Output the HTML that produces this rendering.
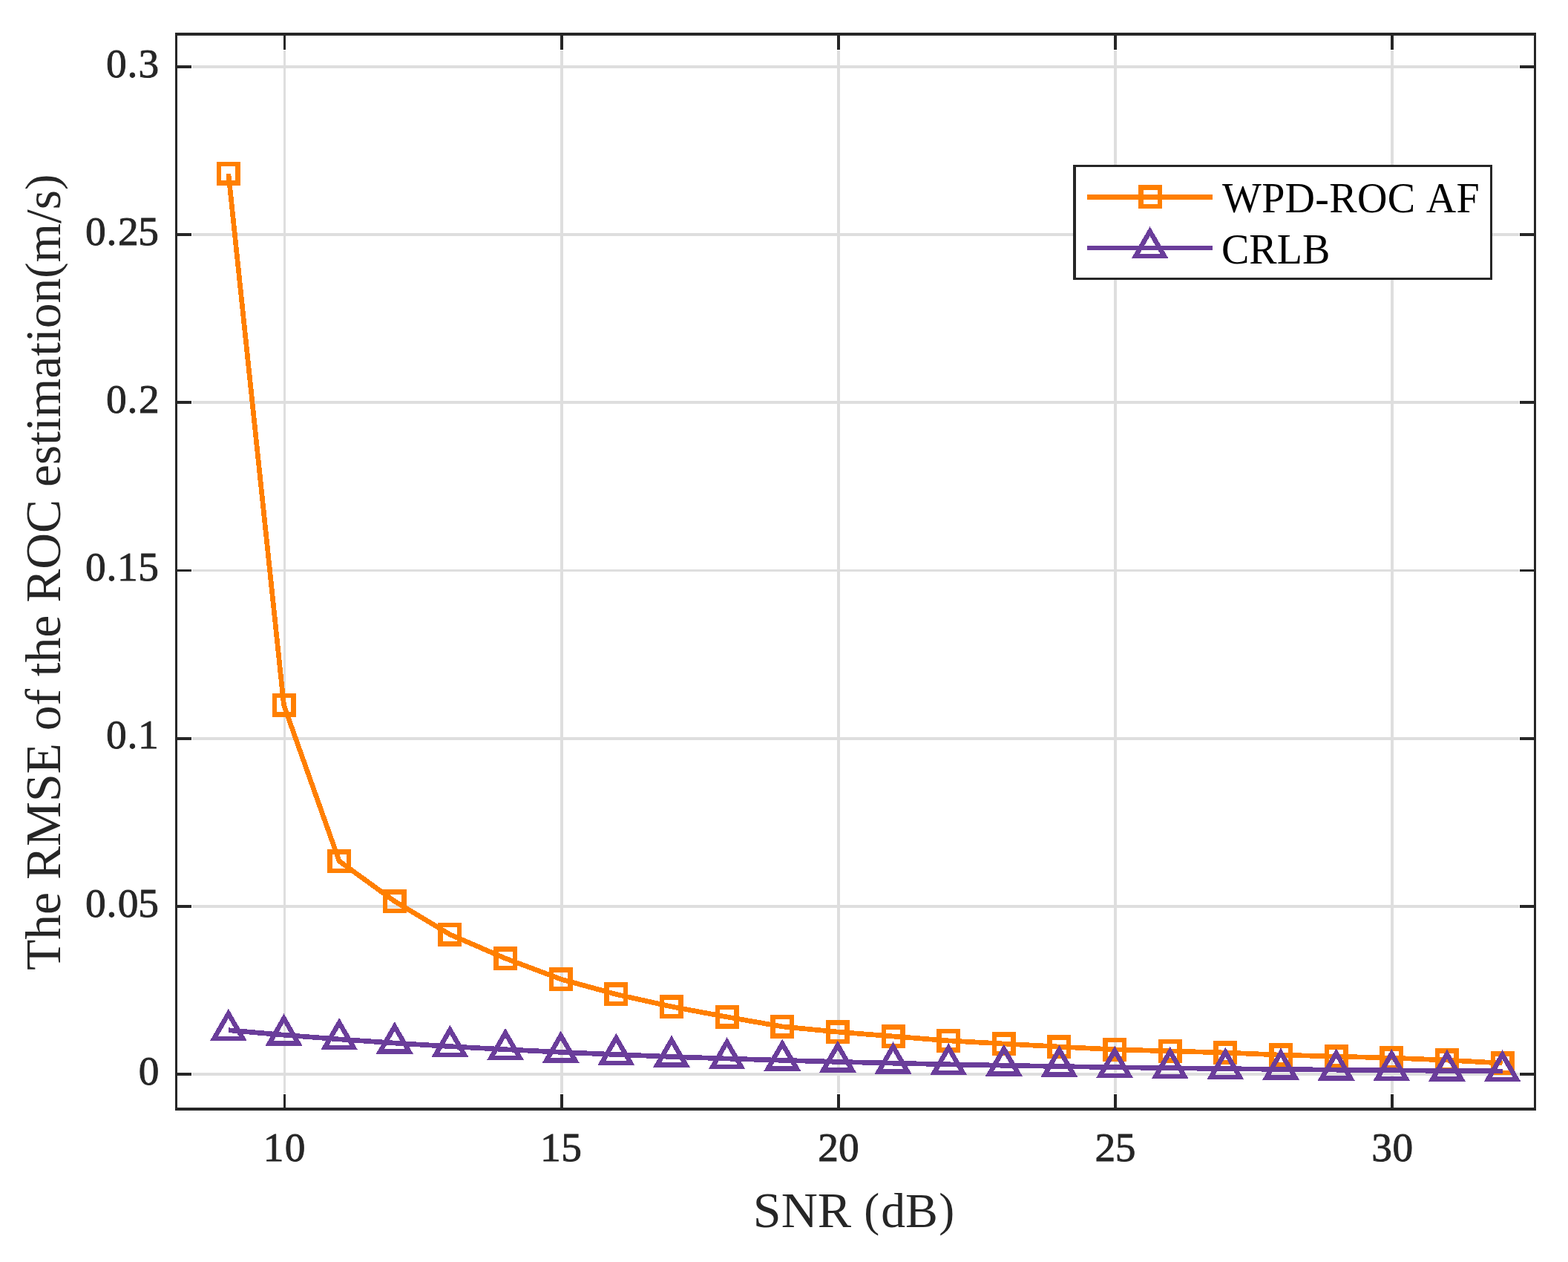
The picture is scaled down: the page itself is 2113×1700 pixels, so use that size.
<!DOCTYPE html>
<html lang="en">
<head>
<meta charset="utf-8">
<title>The RMSE of the ROC estimation vs SNR</title>
<style>
html,body{margin:0;padding:0;background:#ffffff;}
body{width:2113px;height:1700px;overflow:hidden;}
svg{display:block;}
</style>
</head>
<body>
<svg width="2113" height="1700" viewBox="0 0 2113 1700">
<rect x="0" y="0" width="2113" height="1700" fill="#ffffff"/>
<g fill="#dedede" shape-rendering="crispEdges">
<rect x="382" y="68" width="3" height="1405"/>
<rect x="755" y="68" width="4" height="1405"/>
<rect x="1128" y="68" width="4" height="1405"/>
<rect x="1501" y="68" width="4" height="1405"/>
<rect x="1874" y="68" width="4" height="1405"/>
<rect x="259" y="88" width="1788" height="4"/>
<rect x="259" y="314" width="1788" height="4"/>
<rect x="259" y="540" width="1788" height="4"/>
<rect x="259" y="767" width="1788" height="3"/>
<rect x="259" y="993" width="1788" height="4"/>
<rect x="259" y="1219" width="1788" height="4"/>
<rect x="259" y="1445" width="1788" height="4"/>
</g>
<g fill="#262626" shape-rendering="crispEdges">
<rect x="382" y="48" width="3" height="19"/>
<rect x="382" y="1474" width="3" height="18"/>
<rect x="755" y="48" width="4" height="19"/>
<rect x="755" y="1474" width="4" height="18"/>
<rect x="1128" y="48" width="4" height="19"/>
<rect x="1128" y="1474" width="4" height="18"/>
<rect x="1501" y="48" width="4" height="19"/>
<rect x="1501" y="1474" width="4" height="18"/>
<rect x="1874" y="48" width="4" height="19"/>
<rect x="1874" y="1474" width="4" height="18"/>
<rect x="239" y="88" width="19" height="4"/>
<rect x="2048" y="88" width="19" height="4"/>
<rect x="239" y="314" width="19" height="4"/>
<rect x="2048" y="314" width="19" height="4"/>
<rect x="239" y="540" width="19" height="4"/>
<rect x="2048" y="540" width="19" height="4"/>
<rect x="239" y="767" width="19" height="3"/>
<rect x="2048" y="767" width="19" height="3"/>
<rect x="239" y="993" width="19" height="4"/>
<rect x="2048" y="993" width="19" height="4"/>
<rect x="239" y="1219" width="19" height="4"/>
<rect x="2048" y="1219" width="19" height="4"/>
<rect x="239" y="1445" width="19" height="4"/>
<rect x="2048" y="1445" width="19" height="4"/>
<rect x="236" y="44" width="1834" height="4"/>
<rect x="236" y="1492" width="1834" height="4"/>
<rect x="236" y="44" width="3" height="1452"/>
<rect x="2067" y="44" width="3" height="1452"/>
</g>
<polyline points="307.86,233.90 382.50,949.90 457.14,1160.00 531.78,1214.10 606.42,1258.90 681.06,1291.00 755.70,1319.00 830.34,1339.40 904.98,1356.00 979.62,1369.90 1054.26,1382.90 1128.90,1390.10 1203.54,1396.00 1278.18,1401.90 1352.82,1406.00 1427.46,1410.05 1502.10,1413.80 1576.74,1415.90 1651.38,1418.00 1726.02,1421.10 1800.66,1423.10 1875.30,1425.10 1949.94,1428.10 2024.58,1432.10" fill="none" stroke="#ff7f00" stroke-width="6.7" stroke-linejoin="round" stroke-linecap="butt" shape-rendering="crispEdges"/>
<rect x="295.11" y="221.15" width="25.5" height="25.5" fill="none" stroke="#ff7f00" stroke-width="6.5" shape-rendering="crispEdges"/>
<rect x="369.75" y="937.15" width="25.5" height="25.5" fill="none" stroke="#ff7f00" stroke-width="6.5" shape-rendering="crispEdges"/>
<rect x="444.39" y="1147.25" width="25.5" height="25.5" fill="none" stroke="#ff7f00" stroke-width="6.5" shape-rendering="crispEdges"/>
<rect x="519.03" y="1201.35" width="25.5" height="25.5" fill="none" stroke="#ff7f00" stroke-width="6.5" shape-rendering="crispEdges"/>
<rect x="593.67" y="1246.15" width="25.5" height="25.5" fill="none" stroke="#ff7f00" stroke-width="6.5" shape-rendering="crispEdges"/>
<rect x="668.31" y="1278.25" width="25.5" height="25.5" fill="none" stroke="#ff7f00" stroke-width="6.5" shape-rendering="crispEdges"/>
<rect x="742.95" y="1306.25" width="25.5" height="25.5" fill="none" stroke="#ff7f00" stroke-width="6.5" shape-rendering="crispEdges"/>
<rect x="817.59" y="1326.65" width="25.5" height="25.5" fill="none" stroke="#ff7f00" stroke-width="6.5" shape-rendering="crispEdges"/>
<rect x="892.23" y="1343.25" width="25.5" height="25.5" fill="none" stroke="#ff7f00" stroke-width="6.5" shape-rendering="crispEdges"/>
<rect x="966.87" y="1357.15" width="25.5" height="25.5" fill="none" stroke="#ff7f00" stroke-width="6.5" shape-rendering="crispEdges"/>
<rect x="1041.51" y="1370.15" width="25.5" height="25.5" fill="none" stroke="#ff7f00" stroke-width="6.5" shape-rendering="crispEdges"/>
<rect x="1116.15" y="1377.35" width="25.5" height="25.5" fill="none" stroke="#ff7f00" stroke-width="6.5" shape-rendering="crispEdges"/>
<rect x="1190.79" y="1383.25" width="25.5" height="25.5" fill="none" stroke="#ff7f00" stroke-width="6.5" shape-rendering="crispEdges"/>
<rect x="1265.43" y="1389.15" width="25.5" height="25.5" fill="none" stroke="#ff7f00" stroke-width="6.5" shape-rendering="crispEdges"/>
<rect x="1340.07" y="1393.25" width="25.5" height="25.5" fill="none" stroke="#ff7f00" stroke-width="6.5" shape-rendering="crispEdges"/>
<rect x="1414.71" y="1397.30" width="25.5" height="25.5" fill="none" stroke="#ff7f00" stroke-width="6.5" shape-rendering="crispEdges"/>
<rect x="1489.35" y="1401.05" width="25.5" height="25.5" fill="none" stroke="#ff7f00" stroke-width="6.5" shape-rendering="crispEdges"/>
<rect x="1563.99" y="1403.15" width="25.5" height="25.5" fill="none" stroke="#ff7f00" stroke-width="6.5" shape-rendering="crispEdges"/>
<rect x="1638.63" y="1405.25" width="25.5" height="25.5" fill="none" stroke="#ff7f00" stroke-width="6.5" shape-rendering="crispEdges"/>
<rect x="1713.27" y="1408.35" width="25.5" height="25.5" fill="none" stroke="#ff7f00" stroke-width="6.5" shape-rendering="crispEdges"/>
<rect x="1787.91" y="1410.35" width="25.5" height="25.5" fill="none" stroke="#ff7f00" stroke-width="6.5" shape-rendering="crispEdges"/>
<rect x="1862.55" y="1412.35" width="25.5" height="25.5" fill="none" stroke="#ff7f00" stroke-width="6.5" shape-rendering="crispEdges"/>
<rect x="1937.19" y="1415.35" width="25.5" height="25.5" fill="none" stroke="#ff7f00" stroke-width="6.5" shape-rendering="crispEdges"/>
<rect x="2011.83" y="1419.35" width="25.5" height="25.5" fill="none" stroke="#ff7f00" stroke-width="6.5" shape-rendering="crispEdges"/>
<polyline points="307.86,1387.71 382.50,1394.17 457.14,1399.92 531.78,1405.05 606.42,1409.63 681.06,1413.70 755.70,1417.33 830.34,1420.57 904.98,1423.46 979.62,1426.03 1054.26,1428.32 1128.90,1430.36 1203.54,1432.18 1278.18,1433.80 1352.82,1435.25 1427.46,1436.54 1502.10,1437.69 1576.74,1438.71 1651.38,1439.62 1726.02,1440.44 1800.66,1441.16 1875.30,1441.81 1949.94,1442.38 2024.58,1442.90" fill="none" stroke="#6a3d9a" stroke-width="6.7" stroke-linejoin="round" stroke-linecap="butt" shape-rendering="crispEdges"/>
<path d="M307.86 1365.31 L327.26 1398.91 L288.46 1398.91 Z" fill="none" stroke="#6a3d9a" stroke-width="6.5" stroke-linejoin="miter" stroke-miterlimit="10" shape-rendering="crispEdges"/>
<path d="M382.50 1371.77 L401.90 1405.37 L363.10 1405.37 Z" fill="none" stroke="#6a3d9a" stroke-width="6.5" stroke-linejoin="miter" stroke-miterlimit="10" shape-rendering="crispEdges"/>
<path d="M457.14 1377.52 L476.54 1411.12 L437.74 1411.12 Z" fill="none" stroke="#6a3d9a" stroke-width="6.5" stroke-linejoin="miter" stroke-miterlimit="10" shape-rendering="crispEdges"/>
<path d="M531.78 1382.65 L551.18 1416.25 L512.38 1416.25 Z" fill="none" stroke="#6a3d9a" stroke-width="6.5" stroke-linejoin="miter" stroke-miterlimit="10" shape-rendering="crispEdges"/>
<path d="M606.42 1387.23 L625.82 1420.83 L587.02 1420.83 Z" fill="none" stroke="#6a3d9a" stroke-width="6.5" stroke-linejoin="miter" stroke-miterlimit="10" shape-rendering="crispEdges"/>
<path d="M681.06 1391.30 L700.46 1424.90 L661.66 1424.90 Z" fill="none" stroke="#6a3d9a" stroke-width="6.5" stroke-linejoin="miter" stroke-miterlimit="10" shape-rendering="crispEdges"/>
<path d="M755.70 1394.93 L775.10 1428.53 L736.30 1428.53 Z" fill="none" stroke="#6a3d9a" stroke-width="6.5" stroke-linejoin="miter" stroke-miterlimit="10" shape-rendering="crispEdges"/>
<path d="M830.34 1398.17 L849.74 1431.77 L810.94 1431.77 Z" fill="none" stroke="#6a3d9a" stroke-width="6.5" stroke-linejoin="miter" stroke-miterlimit="10" shape-rendering="crispEdges"/>
<path d="M904.98 1401.06 L924.38 1434.66 L885.58 1434.66 Z" fill="none" stroke="#6a3d9a" stroke-width="6.5" stroke-linejoin="miter" stroke-miterlimit="10" shape-rendering="crispEdges"/>
<path d="M979.62 1403.63 L999.02 1437.23 L960.22 1437.23 Z" fill="none" stroke="#6a3d9a" stroke-width="6.5" stroke-linejoin="miter" stroke-miterlimit="10" shape-rendering="crispEdges"/>
<path d="M1054.26 1405.92 L1073.66 1439.52 L1034.86 1439.52 Z" fill="none" stroke="#6a3d9a" stroke-width="6.5" stroke-linejoin="miter" stroke-miterlimit="10" shape-rendering="crispEdges"/>
<path d="M1128.90 1407.96 L1148.30 1441.56 L1109.50 1441.56 Z" fill="none" stroke="#6a3d9a" stroke-width="6.5" stroke-linejoin="miter" stroke-miterlimit="10" shape-rendering="crispEdges"/>
<path d="M1203.54 1409.78 L1222.94 1443.38 L1184.14 1443.38 Z" fill="none" stroke="#6a3d9a" stroke-width="6.5" stroke-linejoin="miter" stroke-miterlimit="10" shape-rendering="crispEdges"/>
<path d="M1278.18 1411.40 L1297.58 1445.00 L1258.78 1445.00 Z" fill="none" stroke="#6a3d9a" stroke-width="6.5" stroke-linejoin="miter" stroke-miterlimit="10" shape-rendering="crispEdges"/>
<path d="M1352.82 1412.85 L1372.22 1446.45 L1333.42 1446.45 Z" fill="none" stroke="#6a3d9a" stroke-width="6.5" stroke-linejoin="miter" stroke-miterlimit="10" shape-rendering="crispEdges"/>
<path d="M1427.46 1414.14 L1446.86 1447.74 L1408.06 1447.74 Z" fill="none" stroke="#6a3d9a" stroke-width="6.5" stroke-linejoin="miter" stroke-miterlimit="10" shape-rendering="crispEdges"/>
<path d="M1502.10 1415.29 L1521.50 1448.89 L1482.70 1448.89 Z" fill="none" stroke="#6a3d9a" stroke-width="6.5" stroke-linejoin="miter" stroke-miterlimit="10" shape-rendering="crispEdges"/>
<path d="M1576.74 1416.31 L1596.14 1449.91 L1557.34 1449.91 Z" fill="none" stroke="#6a3d9a" stroke-width="6.5" stroke-linejoin="miter" stroke-miterlimit="10" shape-rendering="crispEdges"/>
<path d="M1651.38 1417.22 L1670.78 1450.82 L1631.98 1450.82 Z" fill="none" stroke="#6a3d9a" stroke-width="6.5" stroke-linejoin="miter" stroke-miterlimit="10" shape-rendering="crispEdges"/>
<path d="M1726.02 1418.04 L1745.42 1451.64 L1706.62 1451.64 Z" fill="none" stroke="#6a3d9a" stroke-width="6.5" stroke-linejoin="miter" stroke-miterlimit="10" shape-rendering="crispEdges"/>
<path d="M1800.66 1418.76 L1820.06 1452.36 L1781.26 1452.36 Z" fill="none" stroke="#6a3d9a" stroke-width="6.5" stroke-linejoin="miter" stroke-miterlimit="10" shape-rendering="crispEdges"/>
<path d="M1875.30 1419.41 L1894.70 1453.01 L1855.90 1453.01 Z" fill="none" stroke="#6a3d9a" stroke-width="6.5" stroke-linejoin="miter" stroke-miterlimit="10" shape-rendering="crispEdges"/>
<path d="M1949.94 1419.98 L1969.34 1453.58 L1930.54 1453.58 Z" fill="none" stroke="#6a3d9a" stroke-width="6.5" stroke-linejoin="miter" stroke-miterlimit="10" shape-rendering="crispEdges"/>
<path d="M2024.58 1420.50 L2043.98 1454.10 L2005.18 1454.10 Z" fill="none" stroke="#6a3d9a" stroke-width="6.5" stroke-linejoin="miter" stroke-miterlimit="10" shape-rendering="crispEdges"/>
<g shape-rendering="crispEdges">
<rect x="1446" y="222" width="565" height="155" fill="#262626"/>
<rect x="1450" y="225" width="558" height="149" fill="#ffffff"/>
</g>
<rect x="1465" y="262" width="169" height="7" fill="#ff7f00" shape-rendering="crispEdges"/>
<rect x="1537.25" y="252.45" width="25.5" height="25.5" fill="none" stroke="#ff7f00" stroke-width="6.5" shape-rendering="crispEdges"/>
<rect x="1465" y="331" width="169" height="6" fill="#6a3d9a" shape-rendering="crispEdges"/>
<path d="M1549.60 311.50 L1569.00 345.10 L1530.20 345.10 Z" fill="none" stroke="#6a3d9a" stroke-width="6.5" stroke-linejoin="miter" stroke-miterlimit="10" shape-rendering="crispEdges"/>
<g font-family="'Liberation Serif', 'DejaVu Serif', serif" fill="#000000" font-size="56.0" style="font-kerning:none">
<text x="1647.0" y="285.9" letter-spacing="0.3">WPD-ROC AF</text>
<text x="1646.0" y="354.8">CRLB</text>
</g>
<g font-family="'Liberation Serif', 'DejaVu Serif', serif" fill="#262626" stroke="#262626" stroke-width="0.9" font-size="55.4">
<text x="354.83 383.70" y="1563.90" >10</text>
<text x="728.03 756.37" y="1563.90" >15</text>
<text x="1102.31 1130.10" y="1563.90" >20</text>
<text x="1475.51 1502.77" y="1563.90" >25</text>
<text x="1848.16 1876.50" y="1563.90" >30</text>
<text x="186.70" y="1460.85" >0</text>
<text x="115.10 143.62 158.70 186.17" y="1234.65" >0.05</text>
<text x="143.10 171.62 185.93" y="1008.45" >0.1</text>
<text x="115.10 143.62 157.93 186.17" y="782.25" >0.15</text>
<text x="143.10 171.62 187.01" y="556.05" >0.2</text>
<text x="115.10 143.62 159.01 186.17" y="329.85" >0.25</text>
<text x="143.10 171.62 186.46" y="103.65" >0.3</text>
</g>
<g font-family="'Liberation Serif', 'DejaVu Serif', serif" fill="#262626" font-size="66.67" style="font-kerning:none">
<text y="1653.2"><tspan x="1014.85" font-size="68.0">SNR </tspan><tspan x="1164.14" y="1650.6" font-size="62.9">(</tspan><tspan x="1187.23" y="1653.2" font-size="65.7">dB</tspan><tspan x="1265.37" y="1650.6" font-size="62.9">)</tspan></text>
<text transform="translate(80.6 770.75) rotate(-90) scale(1.013 1)" text-anchor="middle">The RMSE of the ROC estimation<tspan font-size="63.2" dy="-2.4">(</tspan><tspan dy="2.4">m/s</tspan><tspan font-size="63.2" dy="-2.4">)</tspan></text>
</g>
</svg>
</body>
</html>
